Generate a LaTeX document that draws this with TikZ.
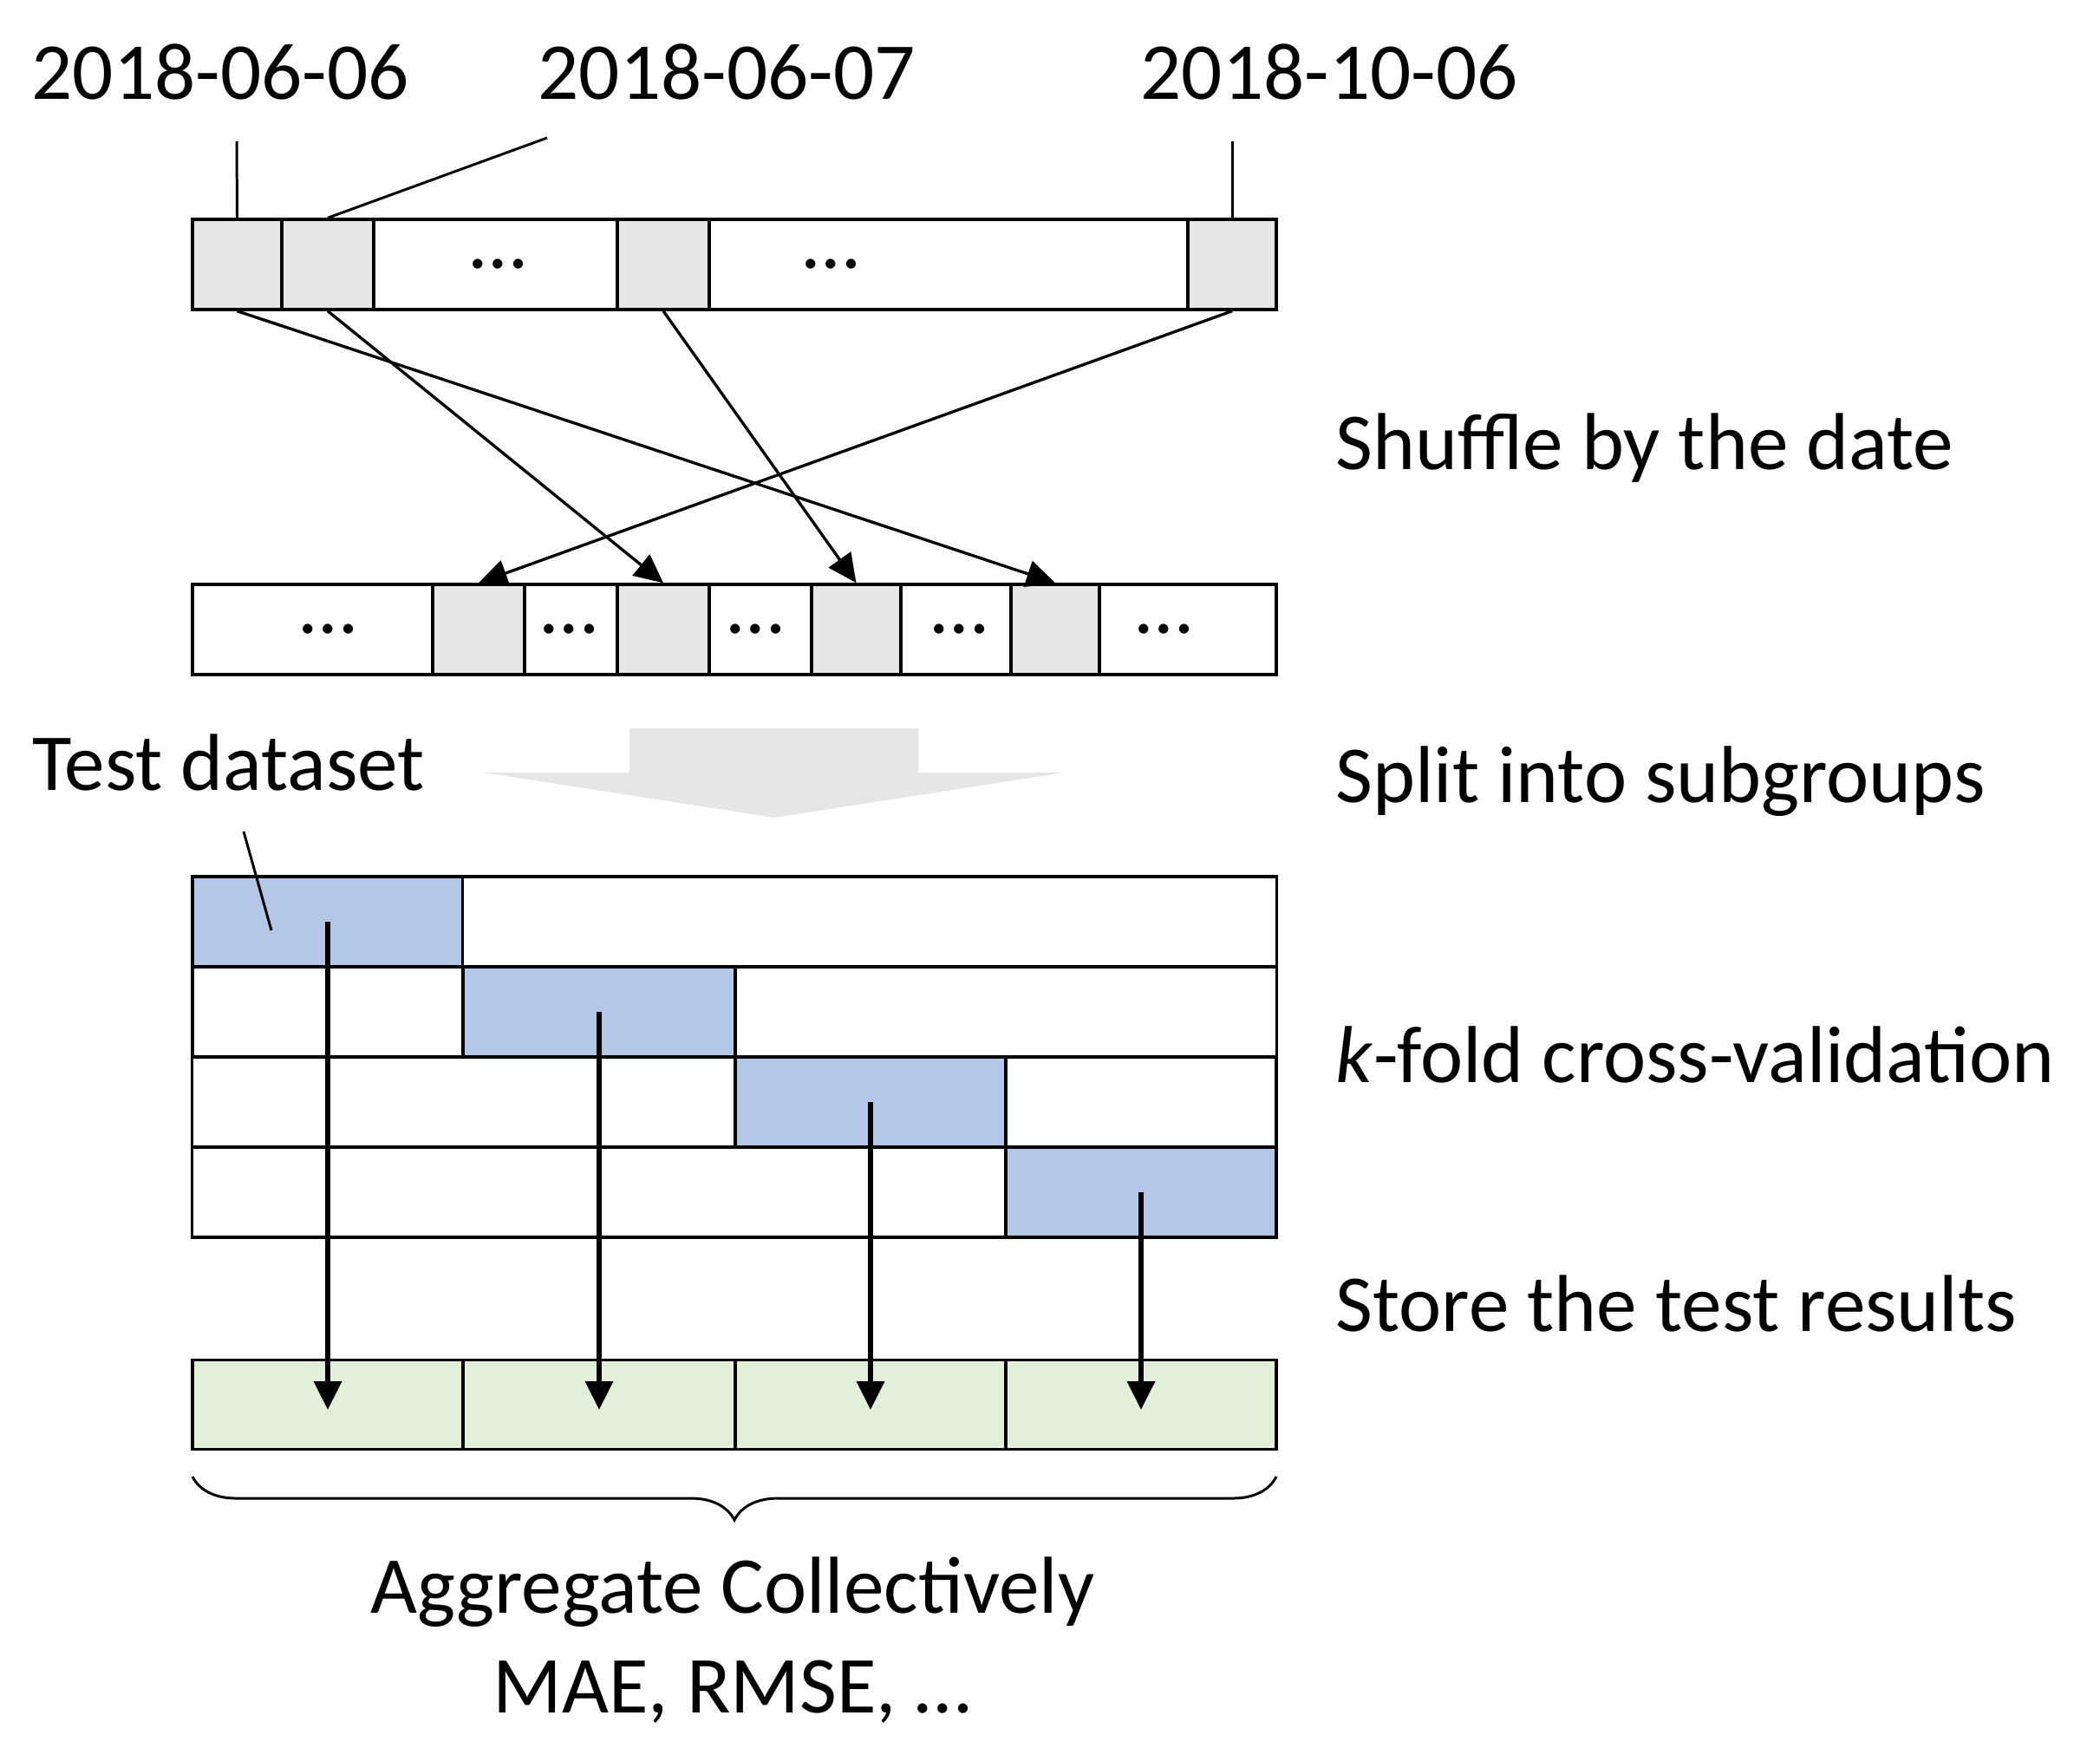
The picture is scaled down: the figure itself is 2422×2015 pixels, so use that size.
\documentclass[tikz,border=0pt]{standalone}
\usepackage{fontspec}
\setmainfont{Carlito}
\usetikzlibrary{arrows.meta,decorations.pathreplacing}
\definecolor{cellgray}{HTML}{E6E6E6}
\definecolor{foldblue}{HTML}{B4C7E7}
\definecolor{resgreen}{HTML}{E2F0D9}
\begin{document}
\begin{tikzpicture}
		[	x=0.01cm,y=-0.01cm,
		box/.style={rectangle,draw=black,fill=white,line width=0.95pt,minimum height=1.04cm,inner sep=0pt},
		graybox/.style={box,fill=cellgray},
		bluebox/.style={box,fill=foldblue},
		greenbox/.style={box,fill=resgreen,minimum height=1.03cm},
		plain/.style={draw=none,fill=none,inner sep=0pt,font=\fontsize{26.5}{32}\selectfont},
		arr/.style={line width=0.95pt,-{Triangle[length=3.3mm,width=3.1mm]}},
		thickarr/.style={arr,line width=1.9pt},
		lead/.style={line width=0.85pt}
		]
		\useasboundingbox (0,0) rectangle (2422,2015);

		% dates
		\node[plain,anchor=base] (d1) at (254,114){2018-06-06};
		\node[plain,anchor=base] (d2) at (838,114){2018-06-07};
		\node[plain,anchor=base] (d3) at (1533,114){2018-10-06};

		% days in order
		\node[graybox,minimum width=1.03cm] (t1) at (273.5,305){};
		\node[graybox,minimum width=1.06cm] (t2) at (378,305){};
		\node[box,minimum width=2.81cm] (t3) at (571.5,305){};
		\node[graybox,minimum width=1.06cm] (t4) at (765,305){};
		\node[box,minimum width=5.52cm] (t5) at (1094,305){};
		\node[graybox,minimum width=1.02cm] (t6) at (1421,305){};
		\node[plain] (t3dots) at (575,305){…};
		\node[plain] (t5dots) at (959,305){…};

		\coordinate (p1) at (273,163);
		\coordinate (p2) at (631,159);
		\coordinate (p3) at (1421,163);
		\draw[lead] (p1) -- (t1.north);
		\draw[lead] (p2) -- (t2.north);
		\draw[lead] (p3) -- (t6.north);

		% shuffled days
		\node[box,minimum width=2.77cm] (b1) at (360.5,726){};
		\node[graybox,minimum width=1.06cm] (b2) at (552,726){};
		\node[box,minimum width=1.07cm] (b3) at (658.5,726){};
		\node[graybox,minimum width=1.06cm] (b4) at (765,726){};
		\node[box,minimum width=1.18cm] (b5) at (877,726){};
		\node[graybox,minimum width=1.03cm] (b6) at (987.5,726){};
		\node[box,minimum width=1.27cm] (b7) at (1102.5,726){};
		\node[graybox,minimum width=1.02cm] (b8) at (1217,726){};
		\node[box,minimum width=2.04cm] (b9) at (1370,726){};
		\node[plain] (b1dots) at (379,726){…};
		\node[plain] (b3dots) at (657,726){…};
		\node[plain] (b5dots) at (872,726){…};
		\node[plain] (b7dots) at (1107,726){…};
		\node[plain] (b9dots) at (1343,726){…};

		\draw[arr] (t1.south) -- (b8.north);
		\draw[arr] (t2.south) -- (b4.north);
		\draw[arr] (t4.south) -- (b6.north);
		\draw[arr] (t6.south) -- (b2.north);

		% split arrow
		\fill[cellgray] (726,840) -- (1059,840) -- (1059,891) -- (1227,891) -- (893,943) -- (558,891) -- (726,891) -- cycle;

		\node[plain,anchor=base west] (td) at (37,911){Test dataset};

		% folds
		\node[bluebox,minimum width=3.12cm] (k1) at (378,1063){};
		\node[box,minimum width=9.38cm] (w1) at (1003,1063){};
		\node[box,minimum width=3.12cm] (w2a) at (378,1167){};
		\node[bluebox,minimum width=3.14cm] (k2) at (691,1167){};
		\node[box,minimum width=6.24cm] (w2b) at (1160,1167){};
		\node[box,minimum width=6.26cm] (w3a) at (535,1271){};
		\node[bluebox,minimum width=3.12cm] (k3) at (1004,1271){};
		\node[box,minimum width=3.12cm] (w3b) at (1316,1271){};
		\node[box,minimum width=9.38cm] (w4) at (691,1375){};
		\node[bluebox,minimum width=3.12cm] (k4) at (1316,1375){};

		\coordinate (p4) at (281,959);
		\coordinate (p5) at (313,1073);
		\draw[lead] (p4) -- (p5);

		% results
		\node[greenbox,minimum width=3.12cm] (g1) at (378,1620){};
		\node[greenbox,minimum width=3.14cm] (g2) at (691,1620){};
		\node[greenbox,minimum width=3.12cm] (g3) at (1004,1620){};
		\node[greenbox,minimum width=3.12cm] (g4) at (1316,1620){};

		\draw[thickarr] (k1.center) -- ([yshift=-0.06cm]g1.center);
		\draw[thickarr] (k2.center) -- ([yshift=-0.06cm]g2.center);
		\draw[thickarr] (k3.center) -- ([yshift=-0.06cm]g3.center);
		\draw[thickarr] (k4.center) -- ([yshift=-0.06cm]g4.center);

		\coordinate (br1) at (222,1703);
		\coordinate (br2) at (1472,1703);
		\draw[lead,decorate,decoration={brace,mirror,amplitude=0.5cm}] (br1) -- (br2);

		\node[plain,anchor=base] (agg) at (845,1860){Aggregate Collectively};
		\node[plain,anchor=base] (mae) at (844,1975){MAE, RMSE, …};

		% steps
		\node[plain,anchor=base west] (s1) at (1540,541){Shuffle by the date};
		\node[plain,anchor=base west] (s2) at (1540,925){Split into subgroups};
		\node[plain,anchor=base west] (s3) at (1540,1248){\textit{k}-fold cross-validation};
		\node[plain,anchor=base west] (s4) at (1540,1535){Store the test results};
	\end{tikzpicture}
\end{document}
